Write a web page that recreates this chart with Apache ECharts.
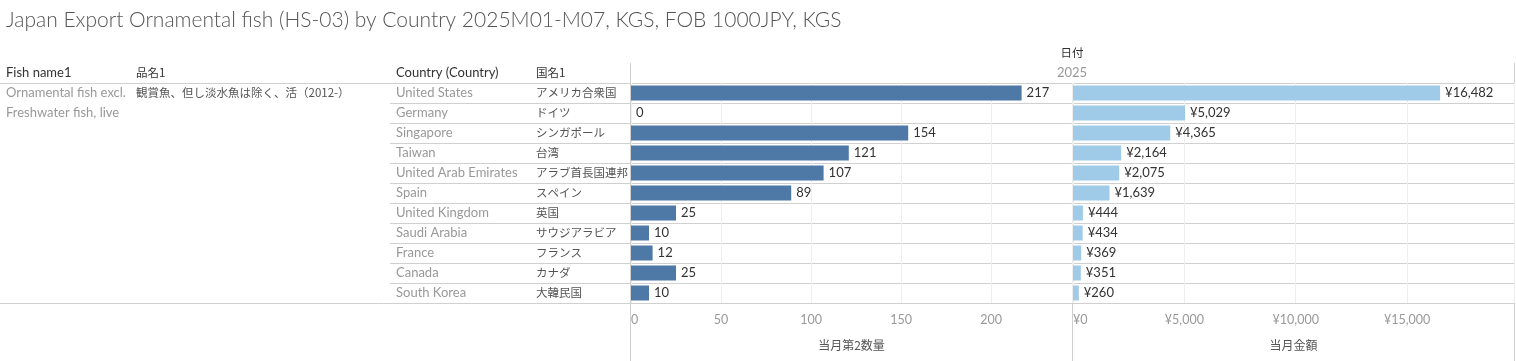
<!DOCTYPE html>
<html>
<head>
<meta charset="utf-8">
<script src="https://cdn.jsdelivr.net/npm/echarts@6/dist/echarts.min.js"></script>
<style>
html,body{margin:0;padding:0;background:#fff;}
#chart{width:1516px;height:361px;}
</style>
</head>
<body>
<div id="chart"></div>
<script>
const countries = ['United States','Germany','Singapore','Taiwan','United Arab Emirates','Spain','United Kingdom','Saudi Arabia','France','Canada','South Korea'];
const countriesJa = ['アメリカ合衆国','ドイツ','シンガポール','台湾','アラブ首長国連邦','スペイン','英国','サウジアラビア','フランス','カナダ','大韓民国'];
const quantity = [217,0,154,121,107,89,25,10,12,25,10];
const amount = [16482,5029,4365,2164,2075,1639,444,434,369,351,260];
const quantityTicks = [0,50,100,150,200];
const amountTicks = [0,5000,10000,15000];
const titleText = 'Japan Export Ornamental fish (HS-03) by Country 2025M01-M07, KGS, FOB 1000JPY, KGS';
const fishName = ['Ornamental fish excl.','Freshwater fish, live'];
const fishNameJa = '観賞魚、但し淡水魚は除く、活（2012-）';
const headers = ['Fish name1','品名1','Country (Country)','国名1'];
const yearLabel = '2025';
const dateHeader = '日付';
const qtyTitle = '当月第2数量';
const amtTitle = '当月金額';

const FONT = "Lato, 'Noto Sans CJK JP', sans-serif";
const JFONT = "'Noto Sans CJK JP', Lato, sans-serif";
const chart = echarts.init(document.getElementById('chart'), null, {renderer:'canvas'});

const lineStyle = {stroke:'#d0d0d0', lineWidth:1};
function hline(x1,x2,y){return {type:'line',shape:{x1:x1,y1:y+0.5,x2:x2,y2:y+0.5},style:lineStyle,silent:true};}
function vline(x,y1,y2){return {type:'line',shape:{x1:x+0.5,y1:y1,x2:x+0.5,y2:y2},style:lineStyle,silent:true};}
function txt(x,y,t,color,font,align){return {type:'text',x:x,y:y,style:{text:t,fill:color,font:font,textAlign:align||'left',textVerticalAlign:'middle'},silent:true};}

const headerX = [6,136,396,536];
const headerFont = ['13px '+FONT,'11.5px '+JFONT,'13px '+FONT,'11.5px '+JFONT];
const graphics = [
  txt(6,20,titleText,'#555','300 21px '+FONT),
  txt(1072,53,dateHeader,'#333','11.5px '+JFONT,'center'),
  txt(1072,73,yearLabel,'#999','13px '+FONT,'center'),
  txt(6,93,fishName[0],'#999','13px '+FONT),
  txt(6,113,fishName[1],'#999','13px '+FONT),
  txt(136,93,fishNameJa,'#555','11.5px '+JFONT),
  hline(0,1514,83),
  hline(0,1514,303),
  vline(630,63,361),
  vline(1072,83,361),
  vline(1514,63,361)
];
headers.forEach((h,i)=>graphics.push(txt(headerX[i],73,h,'#333',headerFont[i])));

const axisLabelStyle = {color:'#999',fontFamily:FONT,fontSize:12.5};

chart.setOption({
  animation:false,
  textStyle:{fontFamily:FONT},
  grid:[
    {left:631,top:83,width:441,height:220},
    {left:1073,top:83,width:441,height:220},
    {left:390,top:83,width:1124,height:220}
  ],
  xAxis:[
    {gridIndex:0,type:'value',min:0,max:245,interval:50,
     axisLine:{show:false},axisTick:{show:false},
     splitLine:{show:true,lineStyle:{color:'#eeeeee'}},
     axisLabel:Object.assign({margin:11,showMaxLabel:false,alignMinLabel:'left'},axisLabelStyle),
     name:qtyTitle,nameLocation:'middle',nameGap:36,
     nameTextStyle:{color:'#555',fontFamily:JFONT,fontSize:12}},
    {gridIndex:1,type:'value',min:0,max:19800,interval:5000,
     axisLine:{show:false},axisTick:{show:false},
     splitLine:{show:true,lineStyle:{color:'#eeeeee'}},
     axisLabel:Object.assign({margin:11,showMaxLabel:false,alignMinLabel:'left',formatter:v=>'¥'+v.toLocaleString('en-US')},axisLabelStyle),
     name:amtTitle,nameLocation:'middle',nameGap:36,
     nameTextStyle:{color:'#555',fontFamily:JFONT,fontSize:12}},
    {gridIndex:2,type:'value',show:false}
  ],
  yAxis:[
    {gridIndex:0,type:'category',data:countries,inverse:true,
     axisLine:{show:false},axisTick:{show:false},splitLine:{show:false},
     axisLabel:{margin:235,align:'left',color:'#999',fontFamily:FONT,fontSize:13}},
    {gridIndex:0,type:'category',data:countriesJa,inverse:true,position:'left',offset:0,
     axisLine:{show:false},axisTick:{show:false},splitLine:{show:false},
     axisLabel:{margin:95,align:'left',color:'#555',fontFamily:JFONT,fontSize:11.5}},
    {gridIndex:1,type:'category',data:countries,inverse:true,
     axisLine:{show:false},axisTick:{show:false},axisLabel:{show:false}},
    {gridIndex:2,type:'category',data:countries,inverse:true,
     axisLine:{show:false},axisTick:{show:false},axisLabel:{show:false},
     splitLine:{show:true,lineStyle:{color:'#d0d0d0'}}}
  ],
  series:[
    {type:'bar',xAxisIndex:0,yAxisIndex:0,data:quantity,barWidth:15,
     itemStyle:{color:'#4e79a7'},
     label:{show:true,position:'right',distance:5,color:'#333',fontFamily:FONT,fontSize:13}},
    {type:'bar',xAxisIndex:1,yAxisIndex:2,data:amount,barWidth:15,
     itemStyle:{color:'#a0cbe8'},
     label:{show:true,position:'right',distance:5,color:'#333',fontFamily:FONT,fontSize:13,
       formatter:p=>'¥'+p.value.toLocaleString('en-US')}}
  ],
  graphic:graphics
});
</script>
</body>
</html>
